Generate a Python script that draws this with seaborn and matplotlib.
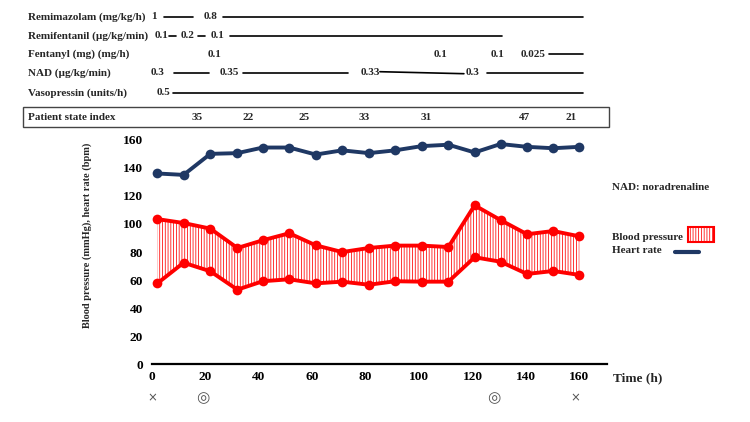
import numpy as np
import pandas as pd
import matplotlib
matplotlib.use("Agg")
import matplotlib.pyplot as plt
import matplotlib.transforms as mtransforms
from matplotlib.patches import Rectangle
from matplotlib.lines import Line2D
import seaborn as sns

# ---------------- data ----------------
time_h = [2.2, 12.0, 22.0, 32.1, 41.6, 51.5, 61.4, 71.3, 81.3, 91.1, 101.0, 111.0, 120.8, 130.5, 140.4, 150.2, 160.0]
heart_rate = [136, 135, 150, 150.5, 154.5, 154.5, 149.5, 152.5, 150.5, 152.5, 155.5, 156.5, 151, 157, 155, 154, 155]
bp_systolic = [103.5, 100.7, 96.7, 82.9, 88.4, 93.4, 84.8, 80.0, 82.9, 84.6, 84.6, 83.6, 113.3, 102.8, 92.7, 95.0, 91.2]
bp_diastolic = [57.7, 72.4, 66.3, 53.2, 59.2, 60.6, 57.7, 58.9, 56.7, 59.2, 58.9, 58.9, 76.3, 73.1, 64.4, 66.5, 63.7]

x_ticks = [0, 20, 40, 60, 80, 100, 120, 140, 160]
y_ticks = [0, 20, 40, 60, 80, 100, 120, 140, 160]

# infusion schedule rows
drug_names = ["Remimazolam (mg/kg/h)", "Remifentanil (\u00b5g/kg/min)", "Fentanyl (mg) (mg/h)",
              "NAD (\u00b5g/kg/min)", "Vasopressin (units/h)"]
drug_doses = [
    [(0.9, "1"), (22.2, "0.8")],
    [(3.6, "0.1"), (13.6, "0.2"), (24.5, "0.1")],
    [(23.4, "0.1"), (108.2, "0.1"), (129.5, "0.1"), (142.6, "0.025")],
    [(2.4, "0.3"), (29.0, "0.35"), (81.7, "0.33"), (120.2, "0.3")],
    [(4.3, "0.5")],
]
drug_segments = [
    [(4.7, 15.5), (26.7, 161.3)],
    [(6.5, 9.2), (17.4, 20.0), (29.3, 131.0)],
    [(148.6, 161.3)],
    [(8.4, 21.5), (34.2, 73.5), (85.4, 116.8), (125.4, 161.3)],
    [(8.0, 161.3)],
]
# small vertical offsets (px) at segment ends (NAD 0.33 line slopes slightly)
drug_segment_tilt = [
    [0, 0],
    [0, 0, 0],
    [0],
    [0, 0, 2.0, 0],
    [0],
]

psi_time = [17.0, 36.3, 57.0, 79.4, 102.6, 139.6, 156.8]
psi_values = ["35", "22", "25", "33", "31", "47", "21"]

event_time = [0.4, 19.0, 128.0, 158.4]
event_marks = ["\u00d7", "\u25ce", "\u25ce", "\u00d7"]

# ---------------- style ----------------
sns.set_theme(style="white")
plt.rcParams["font.family"] = ["Liberation Serif", "DejaVu Serif"]
plt.rcParams["font.weight"] = "bold"
plt.rcParams["hatch.linewidth"] = 0.55

W, H = 750, 422
fig = plt.figure(figsize=(7.5, 4.22), dpi=100)

def fx(px):
    return px / W

def fy(py):
    return 1 - py / H

ax = fig.add_axes([fx(151.5), fy(364.3), fx(607) - fx(151.5), (364.3 - 132.8) / H])

df = pd.DataFrame({"time": time_h, "hr": heart_rate, "sys": bp_systolic, "dia": bp_diastolic})

RED = "#ff0000"
NAVY = "#1f3864"

ax.fill_between(df["time"], df["dia"], df["sys"], facecolor="white", edgecolor=RED,
                hatch="||||||", linewidth=0, zorder=1)
for col, colr in [("sys", RED), ("dia", RED), ("hr", NAVY)]:
    sns.lineplot(data=df, x="time", y=col, ax=ax, color=colr, lw=2.8, marker="o",
                 markersize=7, markeredgewidth=0, zorder=3)

ax.set_xlim(0, 170.3)
ax.set_ylim(0, 165)
ax.set_xticks(x_ticks)
ax.set_yticks(y_ticks)
ax.tick_params(axis="both", length=0, labelsize=9.6, colors="black")
ax.tick_params(axis="x", pad=5)
ax.tick_params(axis="y", pad=6)
for lab in ax.get_xticklabels() + ax.get_yticklabels():
    lab.set_fontweight("bold")
for s in ["top", "right", "left"]:
    ax.spines[s].set_visible(False)
ax.spines["bottom"].set_color("black")
ax.spines["bottom"].set_linewidth(1.6)
ax.set_xlabel("")
ax.set_ylabel("")
ax.patch.set_alpha(0)

fig.text(fx(86.7), fy(235), "Blood pressure (mmHg), heart rate (bpm)", rotation=90,
         ha="center", va="center", fontsize=7.5, fontweight="bold")
fig.text(fx(613), fy(378), "Time (h)", ha="left", va="center", fontsize=9.6, fontweight="bold")

# ---------------- infusion rows ----------------
blend = mtransforms.blended_transform_factory(ax.transData, fig.transFigure)
row_y = [16.7, 36.0, 54.3, 72.7, 92.7]
for name, doses, segs, tilts, ry in zip(drug_names, drug_doses, drug_segments, drug_segment_tilt, row_y):
    fig.text(fx(28), fy(ry), name, ha="left", va="center", fontsize=8, fontweight="bold")
    for t, txt in doses:
        fig.text(t, fy(ry), txt, transform=blend, ha="center", va="center", fontsize=8,
                 fontweight="bold")
    for (t0, t1), tl in zip(segs, tilts):
        fig.add_artist(Line2D([t0, t1], [fy(ry - tl / 2), fy(ry + tl / 2)], transform=blend,
                              color="black", lw=1.2))

# ---------------- PSI box ----------------
fig.add_artist(Rectangle((fx(23), fy(127)), fx(609) - fx(23), (127 - 107) / H,
                         transform=fig.transFigure, facecolor="none", edgecolor="#444444", lw=1.0))
fig.text(fx(28), fy(117), "Patient state index", ha="left", va="center", fontsize=8, fontweight="bold")
for t, v in zip(psi_time, psi_values):
    fig.text(t, fy(117), v, transform=blend, ha="center", va="center", fontsize=8, fontweight="bold")

# ---------------- events under axis ----------------
for t, m in zip(event_time, event_marks):
    fig.text(t, fy(398), m, transform=blend, ha="center", va="center",
             fontsize=(11 if m == "\u25ce" else 8.5),
             color="#555555", family=["DejaVu Sans"], fontweight="normal")

# ---------------- legend / notes ----------------
fig.text(fx(612), fy(187.7), "NAD: noradrenaline", ha="left", va="center", fontsize=8, fontweight="bold")
fig.text(fx(612), fy(237), "Blood pressure", ha="left", va="center", fontsize=8, fontweight="bold")
fig.add_artist(Rectangle((fx(688), fy(242)), fx(714) - fx(688), (242 - 227) / H,
                         transform=fig.transFigure, facecolor="white", edgecolor=RED,
                         hatch="||||||", lw=1.5))
fig.text(fx(612), fy(250.5), "Heart rate", ha="left", va="center", fontsize=8, fontweight="bold")
fig.add_artist(Line2D([fx(675), fx(699)], [fy(251.7), fy(251.7)], transform=fig.transFigure,
                      color=NAVY, lw=3))

fig.savefig("out.png", dpi=100)
